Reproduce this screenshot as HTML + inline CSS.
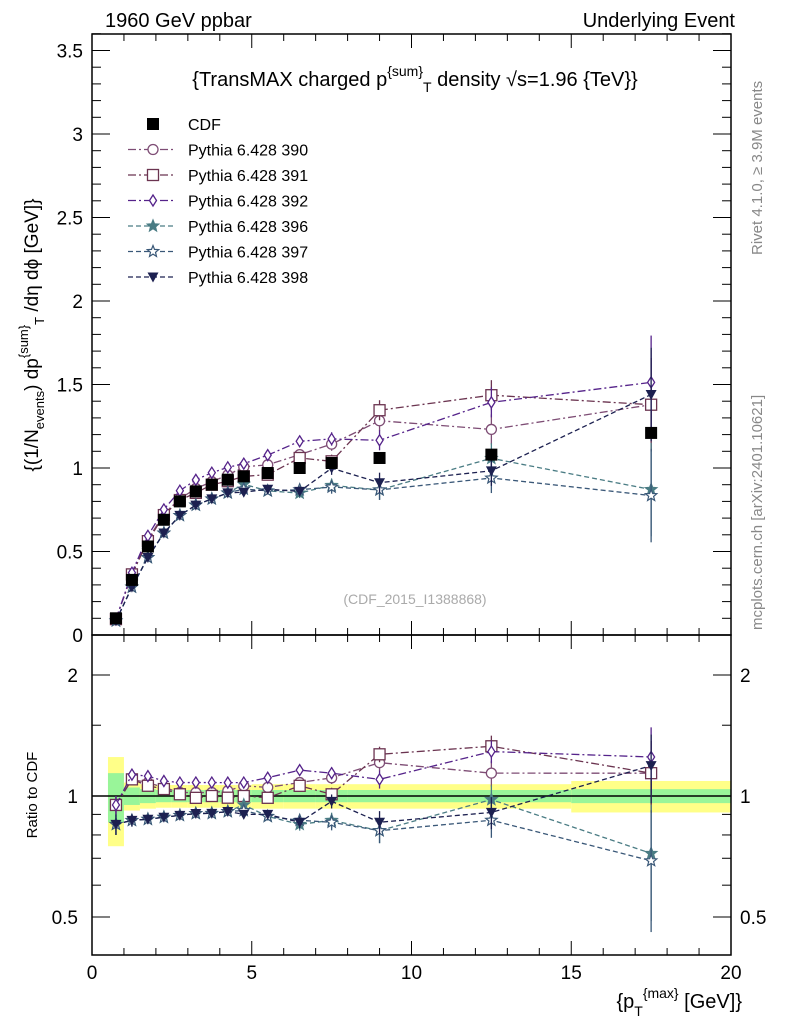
<!DOCTYPE html>
<html><head><meta charset="utf-8">
<style>
html,body{margin:0;padding:0;background:#fff;}
svg{display:block;font-family:"Liberation Sans",sans-serif;}
</style></head>
<body>
<svg id="chart" width="786" height="1024" viewBox="0 0 786 1024" xmlns="http://www.w3.org/2000/svg">
<text x="105" y="27" font-size="20">1960 GeV ppbar</text>
<text x="735" y="27" font-size="20" text-anchor="end">Underlying Event</text>
<text transform="translate(762,255) rotate(-90)" font-size="15" fill="#888">Rivet 4.1.0, ≥ 3.9M events</text>
<text transform="translate(762,630) rotate(-90)" font-size="15" fill="#888">mcplots.cern.ch [arXiv:2401.10621]</text>
<text x="415" y="86" font-size="20" text-anchor="middle">{TransMAX charged p<tspan dy="-10" font-size="14">{sum}</tspan><tspan dy="16" font-size="14">T</tspan><tspan dy="-6"> density √s=1.96 {TeV}}</tspan></text>
<text x="415" y="604" font-size="14" fill="#aaa" text-anchor="middle">(CDF_2015_I1388868)</text>
<text transform="translate(38,335) rotate(-90)" font-size="19" text-anchor="middle">{(1/N<tspan dy="6" font-size="13">events</tspan><tspan dy="-6">) dp</tspan><tspan dy="-10" font-size="13">{sum}</tspan><tspan dy="16" font-size="13">T</tspan><tspan dy="-6"> /dη dϕ [GeV]}</tspan></text>
<text transform="translate(37,795) rotate(-90)" font-size="15" text-anchor="middle">Ratio to CDF</text>
<text x="742" y="1008" font-size="20" text-anchor="end">{p<tspan dy="8" font-size="14">T</tspan><tspan dy="-18" font-size="14">{max}</tspan><tspan dy="10"> [GeV]}</tspan></text>
<g id="bands"></g>
<g id="axes"></g>
<g id="series"></g>
<g id="legend"></g>
</svg>
<script>
const xCenters=[0.75,1.25,1.75,2.25,2.75,3.25,3.75,4.25,4.75,5.5,6.5,7.5,9,12.5,17.5];
const xLow=[0.5,1,1.5,2,2.5,3,3.5,4,4.5,5,6,7,8,10,15];
const xHigh=[1,1.5,2,2.5,3,3.5,4,4.5,5,6,7,8,10,15,20];
const cdf=[0.10,0.33,0.53,0.69,0.80,0.86,0.90,0.93,0.95,0.97,1.00,1.03,1.06,1.08,1.21];
const cdfStatRel=[0.14,0.05,0.04,0.035,0.035,0.035,0.035,0.035,0.035,0.035,0.035,0.035,0.035,0.035,0.04];
const cdfTotRel=[0.25,0.08,0.07,0.065,0.065,0.065,0.065,0.065,0.065,0.07,0.07,0.07,0.07,0.07,0.09];
const p390=[0.095,0.363,0.572,0.725,0.816,0.877,0.918,0.958,1.007,1.019,1.08,1.143,1.283,1.231,1.379];
const p391=[0.095,0.363,0.562,0.718,0.808,0.851,0.90,0.921,0.95,0.960,1.06,1.04,1.346,1.436,1.379];
const p392=[0.095,0.373,0.594,0.752,0.864,0.929,0.972,1.004,1.026,1.077,1.16,1.174,1.166,1.393,1.513];
const p396=[0.085,0.287,0.464,0.611,0.716,0.778,0.815,0.851,0.903,0.863,0.85,0.896,0.869,1.058,0.871];
const p397=[0.085,0.287,0.464,0.611,0.716,0.778,0.815,0.851,0.874,0.863,0.87,0.886,0.869,0.94,0.835];
const p398=[0.085,0.287,0.464,0.611,0.716,0.778,0.815,0.851,0.855,0.873,0.86,0.999,0.912,0.983,1.44];
const mcErr=[0.005,0.01,0.012,0.014,0.015,0.016,0.017,0.018,0.02,0.02,0.03,0.04,0.06,0.09,0.28];
const mainTicks=[0,0.5,1,1.5,2,2.5,3,3.5];
const mainTickLabels=["0","0.5","1","1.5","2","2.5","3","3.5"];
const ratioTicks=[0.5,1,2];
const ratioTickLabels=["0.5","1","2"];
const xTicks=[0,5,10,15,20];
const xTickLabels=["0","5","10","15","20"];

const NS="http://www.w3.org/2000/svg";
const L=92,R=731,T1=34,B1=635,T2=635,B2=955;
const X=v=>L+(R-L)*v/20;
const Y=v=>635-167*v;
const YR=r=>796-121*Math.log2(r);
function mk(parent,tag,attrs){const e=document.createElementNS(NS,tag);for(const k in attrs)e.setAttribute(k,attrs[k]);parent.appendChild(e);return e;}
const gA=document.getElementById('axes'),gB=document.getElementById('bands'),gS=document.getElementById('series'),gL=document.getElementById('legend');

for(let i=0;i<xCenters.length;i++){
  const y=mk(gB,'rect',{x:X(xLow[i]),y:YR(1+cdfTotRel[i]),width:X(xHigh[i])-X(xLow[i]),height:YR(1-cdfTotRel[i])-YR(1+cdfTotRel[i]),fill:'#ffff88'});
  
  
  const g=mk(gB,'rect',{x:X(xLow[i]),y:YR(1+cdfStatRel[i]),width:X(xHigh[i])-X(xLow[i]),height:YR(1-cdfStatRel[i])-YR(1+cdfStatRel[i]),fill:'#99f599'});
  
  
}
mk(gB,'line',{x1:L,x2:R,y1:YR(1),y2:YR(1),stroke:'#000','stroke-width':1.5});

const f1=mk(gA,'rect',{x:L,y:T1,width:R-L,height:B1-T1,fill:'none',stroke:'#000','stroke-width':1.5});


const f2=mk(gA,'rect',{x:L,y:T2,width:R-L,height:B2-T2,fill:'none',stroke:'#000','stroke-width':1.5});


for(let v=0;v<=20;v++){
  const major=v%5===0, len=major?14:7;
  [[T1,1],[B1,-1],[T2,1],[B2,-1]].forEach(([y0,d])=>mk(gA,'line',{x1:X(v),x2:X(v),y1:y0,y2:y0+d*len,stroke:'#000'}));
}
xTicks.forEach((v,i)=>{const t=mk(gA,'text',{x:X(v),y:979,'font-size':19,'text-anchor':'middle'});t.textContent=xTickLabels[i];

});
for(let k=0;k<=36;k++){const v=k/10,major=k%5===0,len=major?18:9;
  mk(gA,'line',{x1:L,x2:L+len,y1:Y(v),y2:Y(v),stroke:'#000'});
  mk(gA,'line',{x1:R,x2:R-len,y1:Y(v),y2:Y(v),stroke:'#000'});}
mainTicks.forEach((v,i)=>{const t=mk(gA,'text',{x:83,y:Y(v)+7,'font-size':19,'text-anchor':'end'});t.textContent=mainTickLabels[i];

});
[0.5,0.6,0.7,0.8,0.9,1,1.5,2].forEach(v=>{const major=(v===0.5||v===1||v===2),len=major?18:9;
  mk(gA,'line',{x1:L,x2:L+len,y1:YR(v),y2:YR(v),stroke:'#000'});
  mk(gA,'line',{x1:R,x2:R-len,y1:YR(v),y2:YR(v),stroke:'#000'});});
ratioTicks.forEach((v,i)=>{
  const t=mk(gA,'text',{x:78,y:YR(v)+7,'font-size':19,'text-anchor':'end'});t.textContent=ratioTickLabels[i];
  
  
  const t2=mk(gA,'text',{x:740,y:YR(v)+7,'font-size':19});t2.textContent=ratioTickLabels[i];
  
  });

function marker(g,type,cx,cy,color){
  if(type==='fsq')return mk(g,'rect',{x:cx-6,y:cy-6,width:12,height:12,fill:'#000'});
  if(type==='circ')return mk(g,'circle',{cx,cy,r:5,fill:'#fff',stroke:color,'stroke-width':1.3});
  if(type==='sq')return mk(g,'rect',{x:cx-5.5,y:cy-5.5,width:11,height:11,fill:'#fff',stroke:color,'stroke-width':1.3});
  if(type==='dia')return mk(g,'polygon',{points:`${cx},${cy-5.5} ${cx+3.5},${cy} ${cx},${cy+5.5} ${cx-3.5},${cy}`,fill:'#fff',stroke:color,'stroke-width':1.3});
  if(type==='fstar'||type==='star'){let p=[];for(let k=0;k<10;k++){const a=-Math.PI/2+k*Math.PI/5,r=k%2?2.6:6;p.push((cx+r*Math.cos(a)).toFixed(1)+','+(cy+r*Math.sin(a)).toFixed(1));}
    return mk(g,'polygon',{points:p.join(' '),fill:type==='fstar'?color:'#fff',stroke:color,'stroke-width':1.2});}
  if(type==='tri')return mk(g,'polygon',{points:`${cx-5.5},${cy-4.5} ${cx+5.5},${cy-4.5} ${cx},${cy+5.5}`,fill:color});
}
const series=[
 {name:'Pythia 6.428 390',v:p390,c:'#7e4d75',m:'circ',dash:'8,3,2,3'},
 {name:'Pythia 6.428 391',v:p391,c:'#6b3450',m:'sq',dash:'8,3,2,3'},
 {name:'Pythia 6.428 392',v:p392,c:'#55238a',m:'dia',dash:'8,3,2,3'},
 {name:'Pythia 6.428 396',v:p396,c:'#4a7c84',m:'fstar',dash:'5,3'},
 {name:'Pythia 6.428 397',v:p397,c:'#3a5878',m:'star',dash:'5,3'},
 {name:'Pythia 6.428 398',v:p398,c:'#1c2050',m:'tri',dash:'5,3'}];
series.forEach(s=>{
  const g=mk(gS,'g',{});
  
  
  const pm=s.v.map((v,i)=>X(xCenters[i])+','+Y(v)).join(' ');
  mk(g,'polyline',{points:pm,fill:'none',stroke:s.c,'stroke-width':1.3,'stroke-dasharray':s.dash});
  const pr=s.v.map((v,i)=>X(xCenters[i])+','+YR(v/cdf[i])).join(' ');
  mk(g,'polyline',{points:pr,fill:'none',stroke:s.c,'stroke-width':1.3,'stroke-dasharray':s.dash});
  s.v.forEach((v,i)=>{const x=X(xCenters[i]);
    mk(g,'line',{x1:x,x2:x,y1:Y(v-mcErr[i]),y2:Y(v+mcErr[i]),stroke:s.c,'stroke-width':1.3});
    mk(g,'line',{x1:x,x2:x,y1:YR((v-mcErr[i])/cdf[i]),y2:YR((v+mcErr[i])/cdf[i]),stroke:s.c,'stroke-width':1.3});
    const m1=marker(g,s.m,x,Y(v),s.c);
    const m2=marker(g,s.m,x,YR(v/cdf[i]),s.c);});
});
const gd=mk(gS,'g',{});


cdf.forEach((v,i)=>{const m=marker(gd,'fsq',X(xCenters[i]),Y(v),'#000');

});

const ly0=124;
const le0=mk(gL,'g',{});


marker(le0,'fsq',153,ly0,'#000');
mk(le0,'text',{x:188,y:ly0+6,'font-size':16}).textContent='CDF';
series.forEach((s,i)=>{const y=ly0+25.5*(i+1);const g=mk(gL,'g',{});
  
  
  mk(g,'line',{x1:128,x2:176,y1:y,y2:y,stroke:s.c,'stroke-width':1.2,'stroke-dasharray':s.dash});
  marker(g,s.m,153,y,s.c);
  mk(g,'text',{x:188,y:y+6,'font-size':16}).textContent=s.name;});
</script>
</body></html>
